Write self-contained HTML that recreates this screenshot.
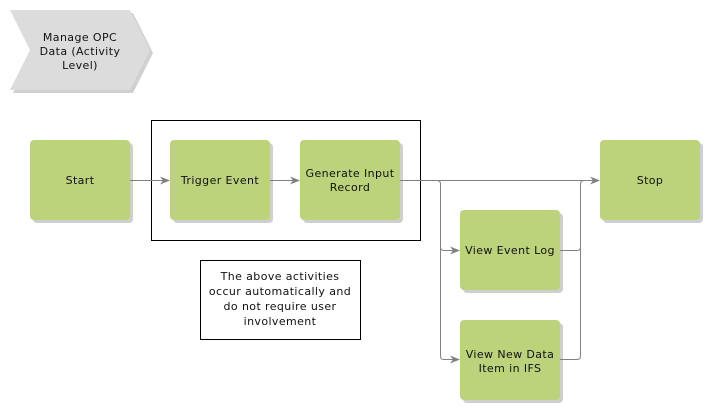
<!DOCTYPE html>
<html><head><meta charset="utf-8"><style>
html,body{margin:0;padding:0;background:#fff;}
svg{display:block;}
text{font-family:"DejaVu Sans","Liberation Sans",sans-serif;font-size:11px;fill:#111;text-anchor:middle;letter-spacing:0.4px;}
</style></head><body>
<svg width="710" height="410" viewBox="0 0 710 410" xmlns="http://www.w3.org/2000/svg">
<defs>
<marker id="a" markerWidth="10" markerHeight="8" refX="9" refY="4" orient="auto" markerUnits="userSpaceOnUse">
<path d="M0,0 L10,4 L0,8 L3,4 Z" fill="#808080"/>
</marker>
</defs>
<polygon points="13,13 133,13 153,53 133,93 13,93 33,53" fill="#d0d0d0"/>
<polygon points="10,10 130,10 150,50 130,90 10,90 30,50" fill="#dcdcdc"/>
<text x="80" y="41">Manage OPC</text>
<text x="80" y="55">Data (Activity</text>
<text x="80" y="69">Level)</text>

<rect x="151.5" y="120.5" width="269" height="120" fill="none" stroke="#000" stroke-width="1"/>
<rect x="200.5" y="260.5" width="160" height="79" fill="#fff" stroke="#000" stroke-width="1"/>
<text x="280" y="280">The above activities</text>
<text x="280" y="295">occur automatically and</text>
<text x="280" y="310">do not require user</text>
<text x="280" y="325">involvement</text>

<g fill="#cfcfcf">
<rect x="33" y="143" width="100" height="80" rx="4"/>
<rect x="173" y="143" width="100" height="80" rx="4"/>
<rect x="303" y="143" width="100" height="80" rx="4"/>
<rect x="603" y="143" width="100" height="80" rx="4"/>
<rect x="463" y="213" width="100" height="80" rx="4"/>
<rect x="463" y="323" width="100" height="80" rx="4"/>
</g>
<g fill="#bcd37c">
<rect x="30" y="140" width="100" height="80" rx="4"/>
<rect x="170" y="140" width="100" height="80" rx="4"/>
<rect x="300" y="140" width="100" height="80" rx="4"/>
<rect x="600" y="140" width="100" height="80" rx="4"/>
<rect x="460" y="210" width="100" height="80" rx="4"/>
<rect x="460" y="320" width="100" height="80" rx="4"/>
</g>
<text x="80" y="184">Start</text>
<text x="220" y="184">Trigger Event</text>
<text x="350" y="177">Generate Input</text>
<text x="350" y="191">Record</text>
<text x="650" y="184">Stop</text>
<text x="510" y="254">View Event Log</text>
<text x="510" y="358">View New Data</text>
<text x="510" y="372">Item in IFS</text>

<g fill="none" stroke="#808080" stroke-width="1">
<path d="M130,180.5 H169" marker-end="url(#a)"/>
<path d="M270,180.5 H299" marker-end="url(#a)"/>
<path d="M400,180.5 H599" marker-end="url(#a)"/>
<path d="M437,180.5 Q440.5,180.5 440.5,184 V247 Q440.5,250.5 444,250.5 H459" marker-end="url(#a)"/>
<path d="M440.5,247 V356 Q440.5,359.5 444,359.5 H459" marker-end="url(#a)"/>
<path d="M560,250.5 H577 Q580.5,250.5 580.5,247 V184 Q580.5,180.5 584,180.5"/>
<path d="M560,359.5 H577 Q580.5,359.5 580.5,356 V247"/>
</g>
</svg>
</body></html>
